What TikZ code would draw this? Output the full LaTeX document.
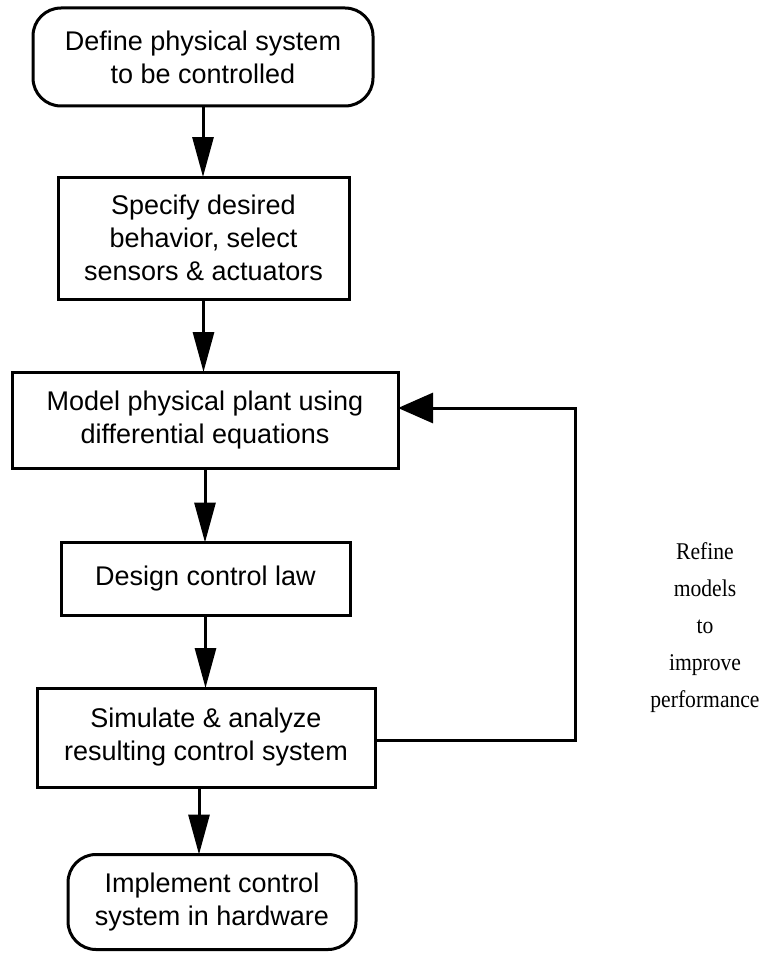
\documentclass[tikz,border=0pt]{standalone}
\usepackage{fontspec}
\setmainfont{Liberation Sans}
\newfontfamily\serifface[FakeStretch=0.9]{Liberation Serif}
\usetikzlibrary{arrows.meta}
\begin{document}
\begin{tikzpicture}[x=1pt,y=-1pt,
  every node/.style={inner sep=0pt, outer sep=0pt},
  boxbase/.style={draw, line width=3pt, align=center, font=\fontsize{27}{33}\selectfont},
  rbox/.style={boxbase, rounded corners=28pt},
  sbox/.style={boxbase},
  flowarrow/.style={line width=3pt, -{Triangle[length=40pt,width=21pt]}},
  backarrow/.style={line width=3pt, -{Triangle[length=35pt,width=30pt]}},
  notetext/.style={align=center, font=\serifface\fontsize{24}{37}\selectfont}]
\useasboundingbox (0,0) rectangle (760,955);
\node[rbox, minimum width=340pt, minimum height=98pt] (b1) at (203,57)
  {Define physical system\\to be controlled};
\node[sbox, minimum width=291pt, minimum height=122pt] (b2) at (203.5,238)
  {Specify desired\\behavior, select\\sensors \& actuators};
\node[sbox, minimum width=386pt, minimum height=96pt] (b3) at (205,420)
  {Model physical plant using\\differential equations};
\node[sbox, minimum width=289pt, minimum height=73pt] (b4) at (205.5,579)
  {Design control law};
\node[sbox, minimum width=338pt, minimum height=99pt] (b5) at (206,737.5)
  {Simulate \& analyze\\resulting control system};
\node[rbox, minimum width=288pt, minimum height=95pt] (b6) at (212,902)
  {Implement control\\system in hardware};
\node[notetext] (note) at (705,628)
  {Refine\\models\\to\\improve\\performance};
\coordinate (turn) at (575,408);
\draw[flowarrow] (b1.south) -- (b1.south |- b2.north);
\draw[flowarrow] (b2.south) -- (b2.south |- b3.north);
\draw[flowarrow] (b3.south) -- (b3.south |- b4.north);
\draw[flowarrow] (b4.south) -- (b4.south |- b5.north);
\draw[flowarrow] ([xshift=-7pt]b5.south) -- ([xshift=-7pt]b5.south |- b6.north);
\draw[backarrow] ([yshift=-2.5pt]b5.east) -| (turn) -- (turn -| b3.east);
\end{tikzpicture}
\end{document}
